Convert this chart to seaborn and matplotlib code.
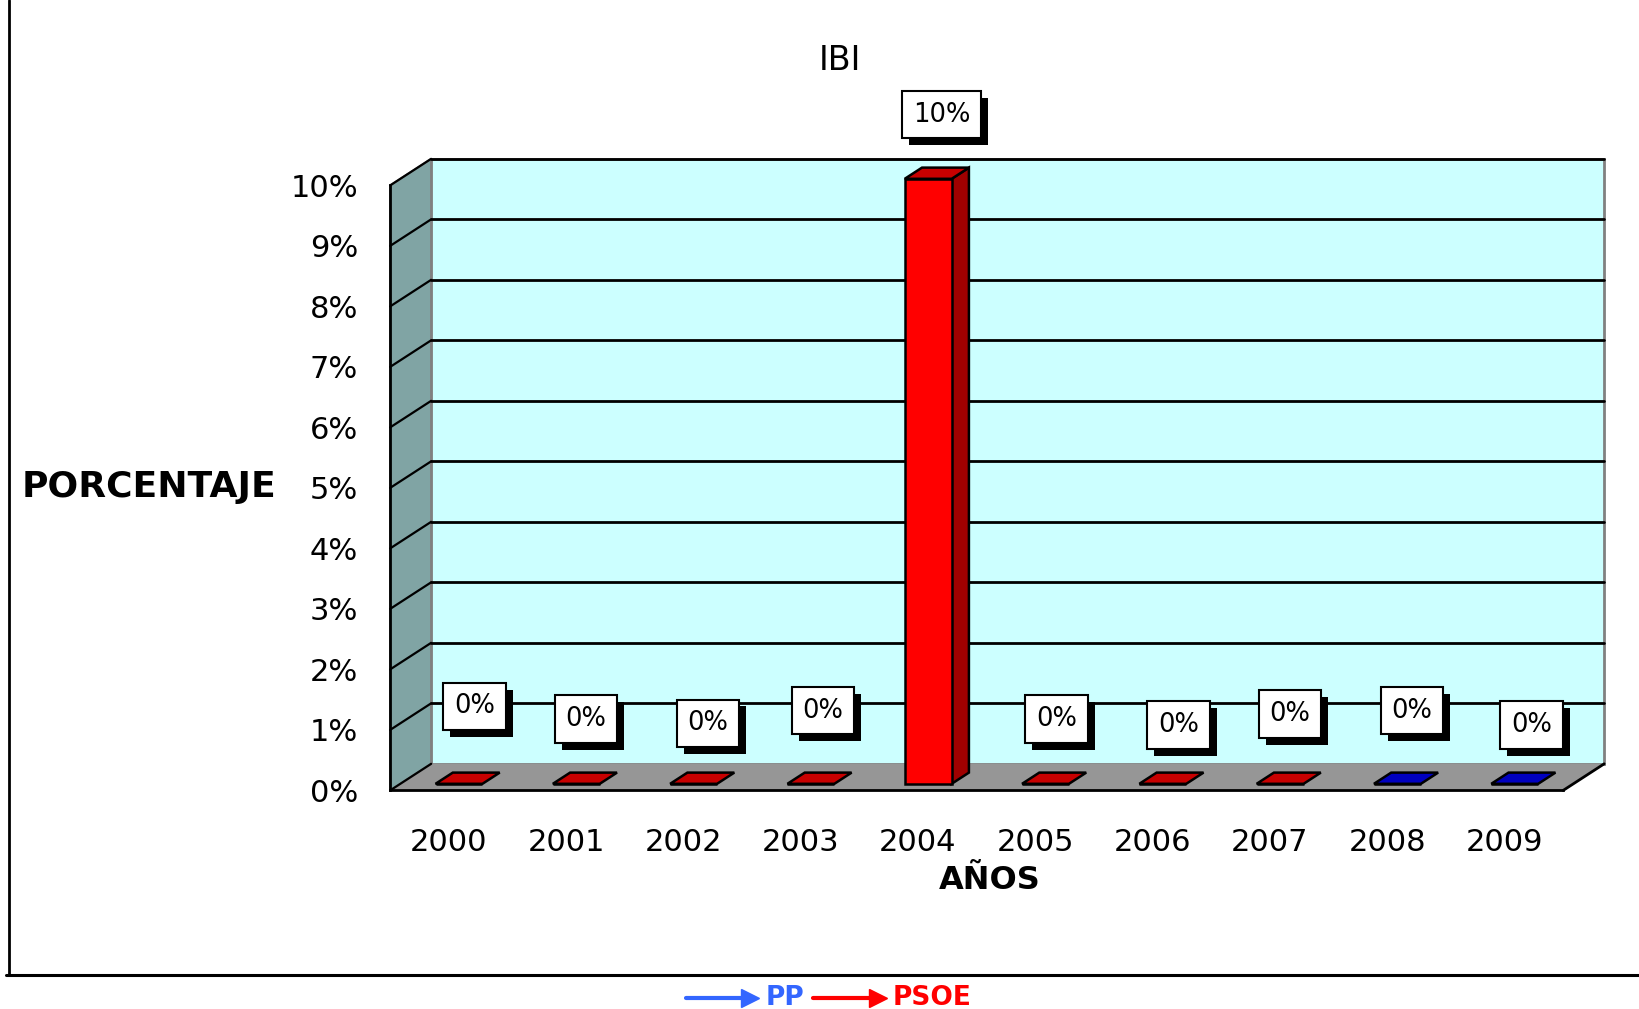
import matplotlib
matplotlib.use("Agg")
import matplotlib.pyplot as plt
import matplotlib.patheffects as pe
from matplotlib.patches import Polygon
from matplotlib.lines import Line2D
import seaborn as sns
import pandas as pd

# data
YEARS = ["2000", "2001", "2002", "2003", "2004", "2005", "2006", "2007", "2008", "2009"]
VALUES = [0, 0, 0, 0, 10, 0, 0, 0, 0, 0]
PARTY = ["PSOE", "PSOE", "PSOE", "PSOE", "PSOE", "PSOE", "PSOE", "PSOE", "PP", "PP"]
Y_TICKS = [0, 1, 2, 3, 4, 5, 6, 7, 8, 9, 10]

# data-label placement (Excel left them at odd heights)
LABEL_DX = [0.22, 0.17, 0.21, 0.19, 0.20, 0.18, 0.22, 0.17, 0.21, 0.23]
LABEL_Y = [1.39, 1.18, 1.11, 1.32, 11.17, 1.18, 1.08, 1.26, 1.32, 1.08]

PALETTE = {"PSOE": "#FF0000", "PP": "#0000FF"}
TOP_CLR = {"PSOE": "#C80000", "PP": "#0000C0"}
SIDE_CLR = {"PSOE": "#A00000", "PP": "#0000A0"}
WALL_CLR = "#CCFFFF"
SIDE_WALL_CLR = "#80A4A4"
FLOOR_CLR = "#969696"

# 3d depth offset in data units
DX, DY = 0.35, 0.44
D0, D1 = 0.25, 0.67

sns.set_theme(style="white")
plt.rcParams["font.family"] = ["DejaVu Sans"]
plt.rcParams.update({"text.color": "black", "xtick.color": "black",
                     "ytick.color": "black", "axes.labelcolor": "black"})

fig = plt.figure(figsize=(16.39, 10.09), dpi=100)
ax = fig.add_axes([0.2380, 0.2166, 0.7157, 0.5996])
ax.patch.set_visible(False)

xl, xr = -0.5, len(YEARS) - 0.5
top = Y_TICKS[-1]

# walls and floor
back = Polygon([(xl + DX, DY), (xr + DX, DY), (xr + DX, top + DY), (xl + DX, top + DY)],
               closed=True, fc=WALL_CLR, ec="#808080", lw=2, zorder=0.5, clip_on=False)
side = Polygon([(xl, 0), (xl + DX, DY), (xl + DX, top + DY), (xl, top)],
               closed=True, fc=SIDE_WALL_CLR, ec="#808080", lw=1.5, zorder=0.6, clip_on=False)
floor = Polygon([(xl, 0), (xr, 0), (xr + DX, DY), (xl + DX, DY)],
                closed=True, fc=FLOOR_CLR, ec="none", zorder=0.7, clip_on=False)
for p in (back, side, floor):
    ax.add_patch(p)

for k in Y_TICKS[1:]:
    ax.plot([xl + DX, xr + DX], [k + DY, k + DY], color="black", lw=2, zorder=0.8, clip_on=False)
for k in Y_TICKS:
    ax.plot([xl, xl + DX], [k, k + DY], color="black", lw=1.6, zorder=0.8, clip_on=False)
ax.plot([xr, xr + DX], [0, DY], color="black", lw=2, zorder=0.9, clip_on=False)

# bars
df = pd.DataFrame({"year": YEARS, "value": VALUES, "party": PARTY})
sns.barplot(data=df, x="year", y="value", hue="party", palette=PALETTE,
            dodge=False, width=0.4, legend=False, edgecolor="black", saturation=1,
            linewidth=1.8, ax=ax, zorder=3)

for p in list(ax.patches):
    if p in (back, side, floor):
        continue
    w, h = p.get_width(), p.get_height()
    if w <= 0:
        continue
    idx = int(round(p.get_x() + w / 2))
    if idx < 0 or idx >= len(YEARS):
        continue
    party = PARTY[idx]
    x0 = p.get_x() + D0 * DX
    y0 = p.get_y() + D0 * DY
    p.set_x(x0)
    p.set_y(y0)
    p.set_clip_on(False)
    dd = D1 - D0
    if h > 0:
        ax.add_patch(Polygon([(x0 + w, y0), (x0 + w + dd * DX, y0 + dd * DY),
                              (x0 + w + dd * DX, y0 + h + dd * DY), (x0 + w, y0 + h)],
                             closed=True, fc=SIDE_CLR[party], ec="black", lw=1.8,
                             zorder=2.9, clip_on=False))
    ax.add_patch(Polygon([(x0, y0 + h), (x0 + w, y0 + h),
                          (x0 + w + dd * DX, y0 + h + dd * DY), (x0 + dd * DX, y0 + h + dd * DY)],
                         closed=True, fc=TOP_CLR[party], ec="black", lw=1.8,
                         zorder=3.1, clip_on=False))

# data labels with drop shadow boxes
for i, v in enumerate(VALUES):
    t = ax.text(i + LABEL_DX[i], LABEL_Y[i], f"{v:.0f}%", ha="center", va="center",
                fontsize=18.5, color="black", zorder=6, clip_on=False,
                bbox=dict(boxstyle="square,pad=0.42", fc="white", ec="black", lw=1.5))
    t.get_bbox_patch().set_path_effects([
        pe.SimplePatchShadow(offset=(5, -5), shadow_rgbFace="black", alpha=1),
        pe.Normal()])

# axes
ax.set_xlim(xl, xr)
ax.set_ylim(0, top)
ax.set_yticks(Y_TICKS)
ax.set_yticklabels([f"{k}%" for k in Y_TICKS])
ax.set_xticks(range(len(YEARS)))
ax.set_xticklabels(YEARS)
ax.set_xticks([i - 0.5 for i in range(len(YEARS) + 1)], minor=True)
ax.tick_params(axis="x", which="major", length=0, pad=27, labelsize=22)
ax.tick_params(axis="x", which="minor", length=8, width=1.5, color="black", direction="out")
ax.tick_params(axis="y", length=7, width=1.5, color="black", direction="out",
               pad=16, labelsize=22)
ax.set_xlabel("")
ax.set_ylabel("")
for s in ("top", "right"):
    ax.spines[s].set_visible(False)
for s in ("left", "bottom"):
    ax.spines[s].set_color("black")
    ax.spines[s].set_linewidth(2)
    ax.spines[s].set_zorder(2.5)

# titles
fig.text(0.5125, 0.9405, "IBI", ha="center", va="center", fontsize=24)
fig.text(0.0910, 0.5174, "PORCENTAJE", ha="center", va="center", fontsize=26, fontweight="bold")
fig.text(0.604, 0.1278, "AÑOS", ha="center", va="center", fontsize=23, fontweight="bold")

# page frame
fig.add_artist(Line2D([8.5 / 1639, 8.5 / 1639], [1, 1 - 975 / 1009], color="black", lw=2))
fig.add_artist(Line2D([6 / 1639, 1], [1 - 975 / 1009, 1 - 975 / 1009], color="black", lw=2.2))

# party key under the frame
ky = 1 - 998 / 1009
fig.add_artist(Line2D([686 / 1639, 745 / 1639], [ky, ky], color="#3366FF", lw=3))
fig.add_artist(Line2D([750 / 1639], [ky], color="#3366FF", marker=">", markersize=13, lw=0))
fig.text(766 / 1639, ky, "PP", color="#3366FF", fontsize=19, fontweight="bold", va="center")
fig.add_artist(Line2D([813 / 1639, 872 / 1639], [ky, ky], color="#FF0000", lw=3))
fig.add_artist(Line2D([878 / 1639], [ky], color="#FF0000", marker=">", markersize=13, lw=0))
fig.text(893 / 1639, ky, "PSOE", color="#FF0000", fontsize=19, fontweight="bold", va="center")

fig.savefig("out.png", dpi=100, facecolor="white")
